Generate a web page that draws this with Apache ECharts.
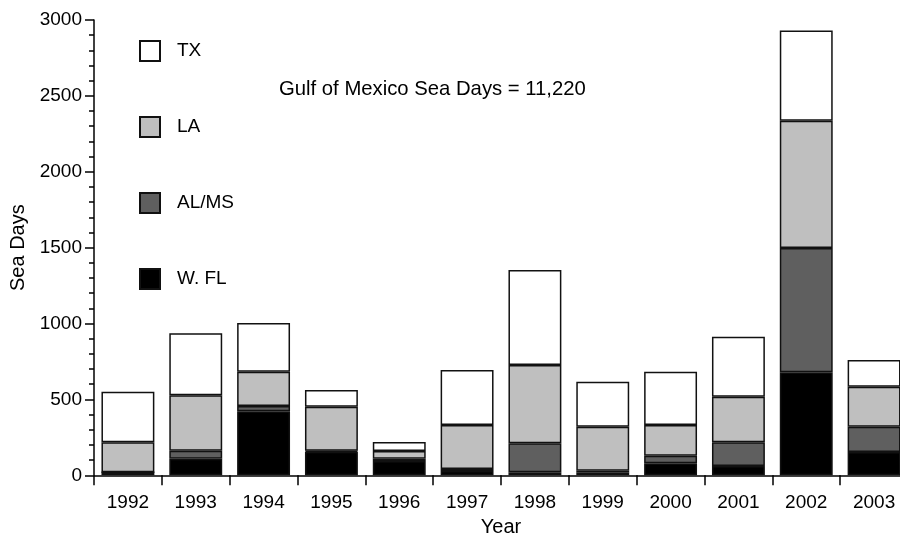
<!DOCTYPE html>
<html>
<head>
<meta charset="utf-8">
<style>
  html, body { margin: 0; padding: 0; background: #fff; }
  #chart { width: 900px; height: 533px; }
</style>
<script src="https://cdn.jsdelivr.net/npm/echarts@6/dist/echarts.min.js"></script>
</head>
<body>
<div id="chart"></div>
<script>
// Sea days per year, stacked by state group (bottom to top: W. FL, AL/MS, LA, TX)
const years = ['1992', '1993', '1994', '1995', '1996', '1997', '1998', '1999', '2000', '2001', '2002', '2003'];
const wfl  = [20, 109, 422, 155, 94, 28, 20, 17, 79, 61, 679, 154];
const alms = [0, 53, 35, 7, 15, 13, 191, 13, 50, 156, 819, 166];
const la   = [197, 365, 226, 290, 51, 290, 516, 290, 202, 301, 838, 264];
const tx   = [334, 409, 320, 110, 59, 363, 625, 297, 352, 395, 594, 176];
const yTicks = [0, 500, 1000, 1500, 2000, 2500, 3000];
const legendOrder = ['TX', 'LA', 'AL/MS', 'W. FL'];
const titleText = 'Gulf of Mexico Sea Days = 11,220';

const FONT = '"Liberation Sans", Arial, Helvetica, sans-serif';
const EDGE = '#111';

function barSeries(name, data, color) {
  return {
    name: name,
    type: 'bar',
    stack: 'days',
    data: data,
    barWidth: '78%',
    itemStyle: { color: color, borderColor: EDGE, borderWidth: 1.5 },
    emphasis: { disabled: true }
  };
}

const chart = echarts.init(document.getElementById('chart'), null, { renderer: 'canvas' });
chart.setOption({
  animation: false,
  backgroundColor: '#fff',
  textStyle: { fontFamily: FONT, color: '#000' },
  graphic: [{
    type: 'text',
    left: 279,
    top: 79,
    silent: true,
    style: { text: titleText, fontFamily: FONT, fontSize: 20.3, fill: '#000' }
  }],
  legend: {
    data: legendOrder,
    orient: 'vertical',
    left: 134,
    top: 35,
    itemWidth: 20,
    itemHeight: 20,
    itemGap: 54,
    icon: 'rect',
    textStyle: { fontFamily: FONT, fontSize: 19, color: '#000', padding: [0, 0, 0, 12] }
  },
  grid: { left: 94, top: 20, right: -8, bottom: 57.7, outerBoundsMode: 'none', containLabel: false },
  xAxis: {
    type: 'category',
    data: years,
    name: 'Year',
    nameLocation: 'middle',
    nameGap: 37,
    nameTextStyle: { fontFamily: FONT, fontSize: 20, color: '#000' },
    axisLine: { show: true, lineStyle: { color: '#000', width: 1.5 } },
    axisTick: { show: true, length: 10, lineStyle: { color: '#000', width: 1.5 } },
    axisLabel: { fontFamily: FONT, fontSize: 19, color: '#000', margin: 18 },
    splitLine: { show: false }
  },
  yAxis: {
    type: 'value',
    min: yTicks[0],
    max: yTicks[yTicks.length - 1],
    interval: yTicks[1] - yTicks[0],
    name: 'Sea Days',
    nameLocation: 'middle',
    nameGap: 59,
    nameTextStyle: { fontFamily: FONT, fontSize: 20, color: '#000' },
    axisLine: { show: true, lineStyle: { color: '#000', width: 1.5 } },
    axisTick: { show: true, length: 9, lineStyle: { color: '#000', width: 1.5 } },
    minorTick: { show: true, splitNumber: 5, length: 5, lineStyle: { color: '#000', width: 1.5 } },
    axisLabel: { fontFamily: FONT, fontSize: 19, color: '#000', margin: 12, formatter: function (v) { return String(v); } },
    splitLine: { show: false },
    minorSplitLine: { show: false }
  },
  series: [
    barSeries('W. FL', wfl, '#000000'),
    barSeries('AL/MS', alms, '#5f5f5f'),
    barSeries('LA', la, '#bfbfbf'),
    barSeries('TX', tx, '#ffffff')
  ]
});
</script>
</body>
</html>
